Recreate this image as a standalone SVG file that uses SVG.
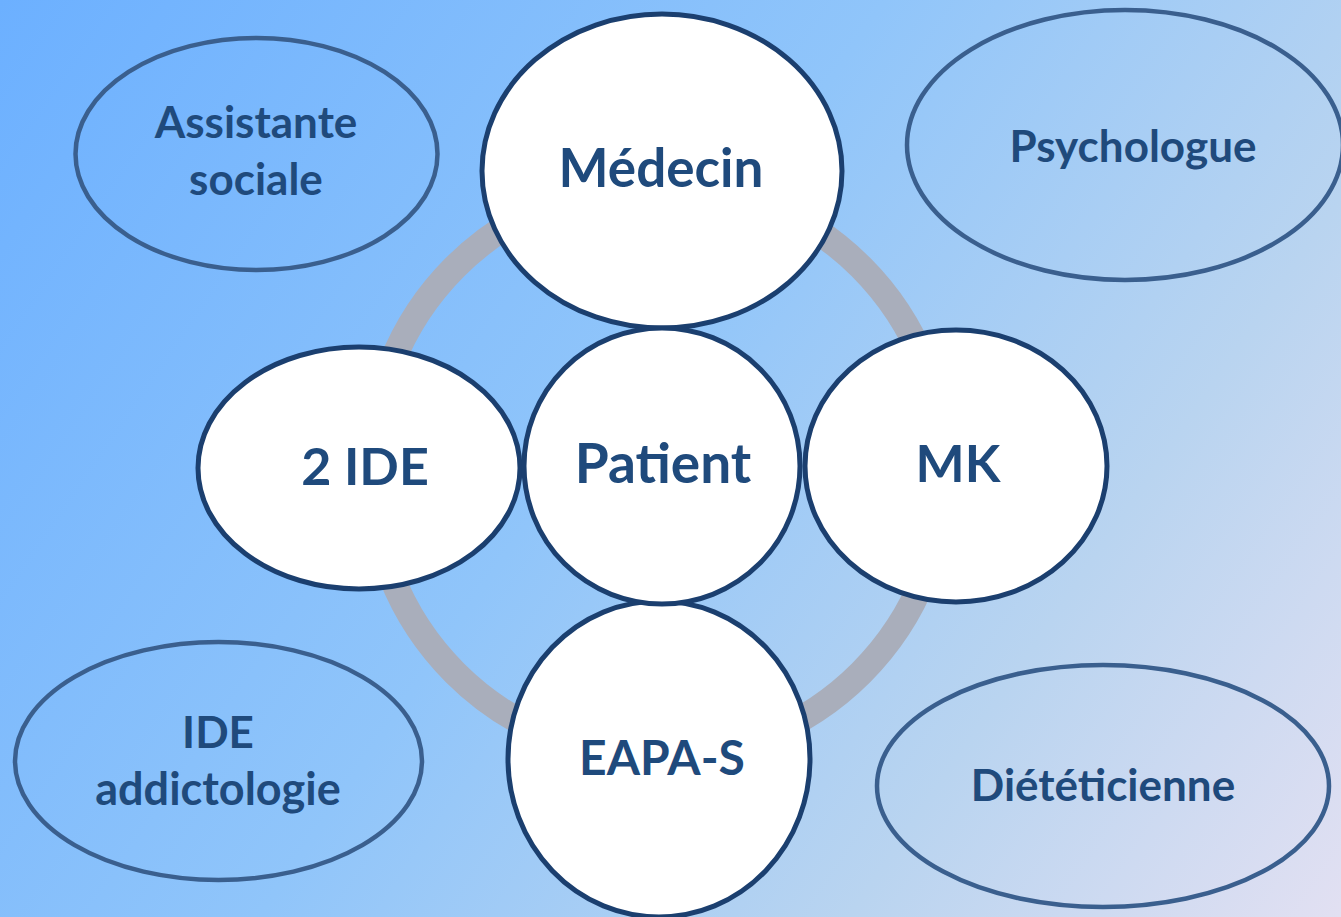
<svg xmlns="http://www.w3.org/2000/svg" width="1341" height="917" viewBox="0 0 1341 917">
<defs>
<linearGradient id="bg" x1="0" y1="0" x2="1341" y2="917" gradientUnits="userSpaceOnUse">
<stop offset="0" stop-color="#6cb0ff"/>
<stop offset="0.45" stop-color="#90c5fa"/>
<stop offset="0.75" stop-color="#b9d4f0"/>
<stop offset="1" stop-color="#e2e0f2"/>
</linearGradient>
</defs>
<style>
.main{fill:#ffffff;stroke:#1b3f6f;stroke-width:5}
.outer{fill:none;stroke:#3a5f8e;stroke-width:4.5}
.t{font-family:Lato,"Open Sans",sans-serif;font-weight:bold;fill:#1f4a7c;text-anchor:middle}
.big{font-size:52px}
.small{font-size:44px}
</style>
<rect x="0" y="0" width="1341" height="917" fill="url(#bg)"/>
<g id="connectors">
<circle cx="658" cy="470" r="287" fill="none" stroke="#a9aebb" stroke-width="26"/>
</g>
<g id="assistante">
<ellipse class="outer" cx="256.5" cy="154" rx="181" ry="116"/>
<text class="t small" x="256" y="138">Assistante</text>
<text class="t small" x="256" y="195">sociale</text>
</g>
<g id="psychologue">
<ellipse class="outer" cx="1125" cy="145" rx="218" ry="135"/>
<text class="t small" x="1133" y="162">Psychologue</text>
</g>
<g id="ide-addictologie">
<ellipse class="outer" cx="218.5" cy="761" rx="203.5" ry="119"/>
<text class="t small" x="218" y="748">IDE</text>
<text class="t" style="font-size:45px" x="218" y="805">addictologie</text>
</g>
<g id="dieteticienne">
<ellipse class="outer" cx="1103" cy="786" rx="226" ry="121"/>
<text class="t small" x="1103" y="801">Diététicienne</text>
</g>
<g id="medecin">
<ellipse class="main" cx="662" cy="171" rx="180" ry="157"/>
<text class="t" style="font-size:53px" x="661" y="187">Médecin</text>
</g>
<g id="ide2">
<ellipse class="main" cx="359" cy="468" rx="161" ry="121"/>
<text class="t big" x="365" y="485">2 IDE</text>
</g>
<g id="mk">
<ellipse class="main" cx="956" cy="466" rx="151" ry="136"/>
<text class="t big" x="958" y="482">MK</text>
</g>
<g id="eapas">
<ellipse class="main" cx="659" cy="759" rx="151" ry="158"/>
<text class="t" style="font-size:48px" x="662" y="775">EAPA-S</text>
</g>
<g id="patient">
<ellipse class="main" cx="662" cy="466" rx="138" ry="138"/>
<text class="t" style="font-size:55px" x="663" y="483">Patient</text>
</g>
</svg>
